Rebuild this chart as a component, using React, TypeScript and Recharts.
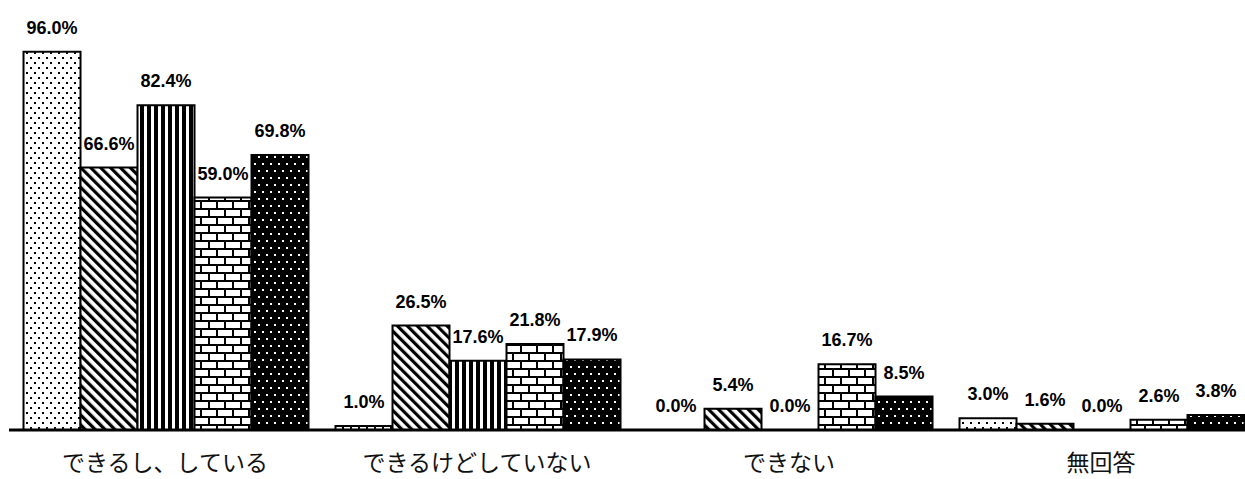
import React from 'react';
import { BarChart, Bar, XAxis, YAxis, LabelList } from 'recharts';

const categories = ['できるし、している', 'できるけどしていない', 'できない', '無回答'];
const seriesA = [96.0, 1.0, 0.0, 3.0];
const seriesB = [66.6, 26.5, 5.4, 1.6];
const seriesC = [82.4, 17.6, 0.0, 0.0];
const seriesD = [59.0, 21.8, 16.7, 2.6];
const seriesE = [69.8, 17.9, 8.5, 3.8];

const seriesKeys = ['a', 'b', 'c', 'd', 'e'];
const fills = ['url(#pDots)', 'url(#pDiag)', 'url(#pVert)', 'url(#pBrick)', 'url(#pBlackDots)'];

const data = categories.map((name, i) => ({
    name,
    a: seriesA[i],
    b: seriesB[i],
    c: seriesC[i],
    d: seriesD[i],
    e: seriesE[i],
}));

// zero bars still need a (hidden) rect so that their 0.0% label is drawn
const keepZero = (value: any) => (Number(value) === 0 ? 0.01 : 0);

const ValueLabel = (props: any) => {
    const { x, y, width, value } = props;
    if (value == null) return null;
    return (
        <text
            x={x + width / 2}
            y={y - 24}
            textAnchor="middle"
            dominantBaseline="central"
            fontFamily="'Liberation Sans', Arial, sans-serif"
            fontWeight={700}
            fontSize={18}
            fill="#000"
        >
            {Number(value).toFixed(1)}%
        </text>
    );
};

const CategoryTick = (props: any) => {
    const { x, y, payload } = props;
    return (
        <text
            x={x}
            y={y + 23}
            textAnchor="middle"
            dominantBaseline="central"
            fontFamily="'Noto Sans CJK JP', sans-serif"
            fontSize={23}
            fill="#111"
        >
            {payload.value}
        </text>
    );
};

const Patterns = () => (
    <svg width={0} height={0} style={{ position: 'absolute' }}>
        <defs>
            <pattern id="pDots" width={8} height={10} patternUnits="userSpaceOnUse">
                <rect width={8} height={10} fill="#fff" />
                <rect x={2} y={2} width={2} height={2} fill="#000" />
                <rect x={6} y={7} width={2} height={2} fill="#000" />
            </pattern>
            <pattern id="pDiag" width={7} height={7} patternUnits="userSpaceOnUse" patternTransform="rotate(-45)">
                <rect width={7} height={7} fill="#fff" />
                <rect x={0} y={0} width={3.2} height={7} fill="#000" />
            </pattern>
            <pattern id="pVert" width={7} height={7} patternUnits="userSpaceOnUse">
                <rect width={7} height={7} fill="#fff" />
                <rect x={0} y={0} width={4} height={7} fill="#000" />
            </pattern>
            <pattern id="pBrick" width={16} height={16} patternUnits="userSpaceOnUse">
                <rect width={16} height={16} fill="#fff" />
                <rect x={0} y={0} width={16} height={2} fill="#000" />
                <rect x={0} y={8} width={16} height={2} fill="#000" />
                <rect x={0} y={0} width={2} height={8} fill="#000" />
                <rect x={8} y={8} width={2} height={8} fill="#000" />
            </pattern>
            <pattern id="pBlackDots" width={8} height={14} patternUnits="userSpaceOnUse">
                <rect width={8} height={14} fill="#000" />
                <rect x={2} y={2} width={2} height={2} fill="#fff" />
                <rect x={6} y={9} width={2} height={2} fill="#fff" />
            </pattern>
        </defs>
    </svg>
);

export default function App() {
    return (
        <div style={{ position: 'absolute', left: 0, top: 0, width: 1245, height: 479, overflow: 'hidden', background: '#fff' }}>
            <Patterns />
            <BarChart
                width={1258}
                height={479}
                data={data}
                margin={{ top: 36, right: 1, left: 9, bottom: 0 }}
                barGap={0}
                barCategoryGap="4.65%"
            >
                <XAxis
                    dataKey="name"
                    height={49}
                    axisLine={{ stroke: '#000', strokeWidth: 3 }}
                    tickLine={false}
                    tick={<CategoryTick />}
                    interval={0}
                />
                <YAxis hide domain={[0, 100]} />
                {seriesKeys.map((k, i) => (
                    <Bar
                        key={k}
                        dataKey={k}
                        fill={fills[i]}
                        stroke="#000"
                        strokeWidth={2}
                        minPointSize={keepZero}
                        isAnimationActive={false}
                    >
                        <LabelList dataKey={k} content={<ValueLabel />} />
                    </Bar>
                ))}
            </BarChart>
        </div>
    );
}
